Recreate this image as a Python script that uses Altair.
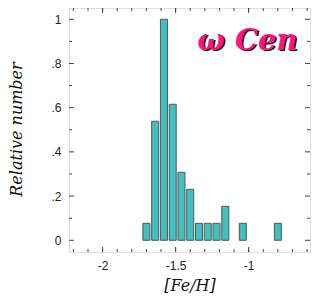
import altair as alt
import pandas as pd

# data
feh_centers = [-1.70, -1.64, -1.58, -1.52, -1.46, -1.40, -1.34, -1.28, -1.22, -1.16, -1.04, -0.80]
counts = [1, 7, 13, 8, 4, 3, 1, 1, 1, 2, 1, 1]
x_major = [-2.0, -1.5, -1.0]
x_minor = [round(-2.2 + 0.1 * i, 2) for i in range(17)]
y_major = [0.0, 0.2, 0.4, 0.6, 0.8, 1.0]
y_minor = [0.1, 0.3, 0.5, 0.7, 0.9]
title_text = ["ω  Cen"]

peak = max(counts)
bars = pd.DataFrame({"c": feh_centers, "rel": [v / peak for v in counts]})

W, H = 241, 244
XD = [-2.23, -0.58]
YD = [-0.053, 1.051]
xs = alt.Scale(domain=XD, nice=False, zero=False)
ys = alt.Scale(domain=YD, nice=False, zero=False)
FRAME = "#444444"

label_font = "Liberation Sans"
title_font = "DejaVu Serif"

bar = alt.Chart(bars).transform_calculate(
    x0="datum.c - 0.024", x1="datum.c + 0.024"
).mark_rect(fill="#40C0C0", stroke="#555555", strokeWidth=1).encode(
    x=alt.X("x0:Q", scale=xs,
            axis=alt.Axis(values=x_major, ticks=False, domain=False, grid=False,
                          labelExpr="datum.value == -2 ? '-2' : datum.value == -1 ? '-1' : '-1.5'",
                          labelFont=label_font, labelFontSize=12, labelColor="#222",
                          labelPadding=8,
                          title="[Fe/H]", titleFont=title_font, titleFontStyle="italic",
                          titleFontWeight="normal", titleFontSize=16, titleColor="#111",
                          titleX=W / 2, titleY=33, titleBaseline="middle")),
    x2="x1:Q",
    y=alt.Y("rel:Q", scale=ys,
            axis=alt.Axis(values=y_major, ticks=False, domain=False, grid=False,
                          labelExpr="datum.value == 0 ? '0' : datum.value == 1 ? '1' : replace(format(datum.value, '.1f'), '0.', '.')",
                          labelFont=label_font, labelFontSize=12, labelColor="#222",
                          labelPadding=8,
                          title="Relative number", titleFont=title_font, titleFontStyle="italic",
                          titleFontWeight="normal", titleFontSize=16, titleColor="#111",
                          titleX=-53, titleY=121, titleAngle=-90, titleBaseline="middle")),
    y2=alt.Y2(datum=0),
)

def xticks(vals, length):
    d = pd.DataFrame({"v": vals})
    b = alt.Chart(d).mark_rule(color=FRAME, strokeWidth=1).encode(
        x=alt.X("v:Q", scale=xs), y=alt.value(H), y2=alt.value(H - length))
    t = alt.Chart(d).mark_rule(color=FRAME, strokeWidth=1).encode(
        x=alt.X("v:Q", scale=xs), y=alt.value(0), y2=alt.value(length))
    return b + t

def yticks(vals, length):
    d = pd.DataFrame({"v": vals})
    l = alt.Chart(d).mark_rule(color=FRAME, strokeWidth=1).encode(
        y=alt.Y("v:Q", scale=ys), x=alt.value(0), x2=alt.value(length))
    r = alt.Chart(d).mark_rule(color=FRAME, strokeWidth=1).encode(
        y=alt.Y("v:Q", scale=ys), x=alt.value(W), x2=alt.value(W - length))
    return l + r

tdf = pd.DataFrame({"t": title_text, "x": [-0.665], "y": [0.862]})
shadow = alt.Chart(tdf).mark_text(
    font=title_font, fontSize=29, fontStyle="italic", fontWeight="bold",
    color="black", align="right", baseline="alphabetic", dx=1.5, dy=1.2
).encode(x=alt.X("x:Q", scale=xs), y=alt.Y("y:Q", scale=ys), text="t:N")
title = alt.Chart(tdf).mark_text(
    font=title_font, fontSize=29, fontStyle="italic", fontWeight="bold",
    color="#FF1480", align="right", baseline="alphabetic"
).encode(x=alt.X("x:Q", scale=xs), y=alt.Y("y:Q", scale=ys), text="t:N")

chart = alt.layer(
    bar,
    xticks(x_minor, 3), xticks(x_major, 5),
    yticks(y_minor, 3), yticks(y_major, 5),
    shadow, title,
).properties(
    width=W, height=H,
    autosize=alt.AutoSizeParams(type="none"),
    padding={"left": 61, "top": 0, "right": 9, "bottom": 41},
).configure_view(stroke=FRAME, strokeWidth=1).configure(background="white")

chart.save("out.html", embed_options={"renderer": "svg", "actions": False})
